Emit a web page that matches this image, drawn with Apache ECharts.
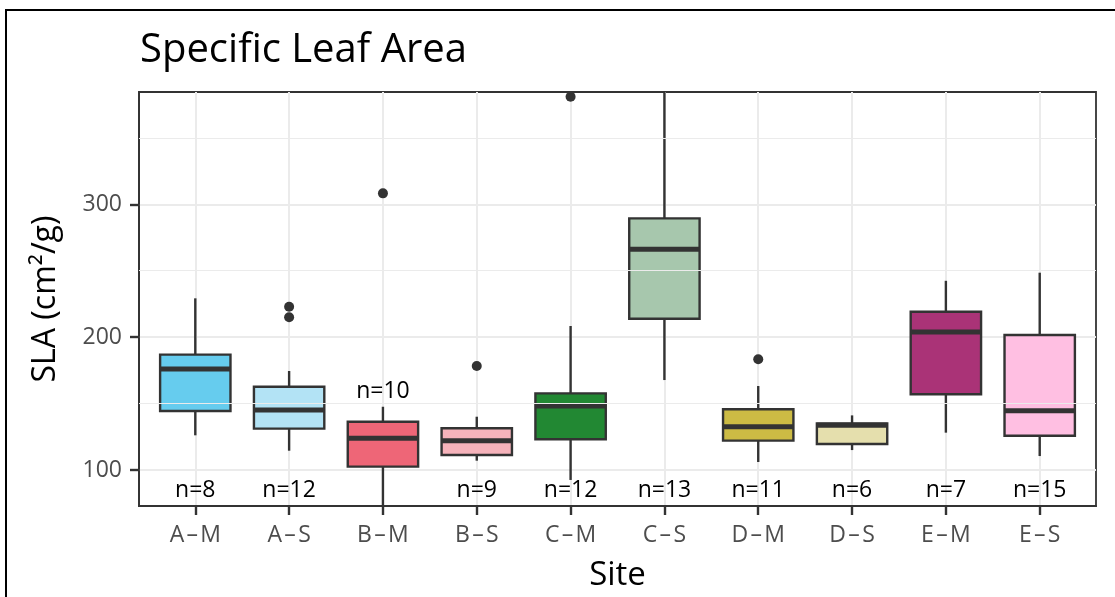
<!DOCTYPE html>
<html>
<head>
<meta charset="utf-8">
<script src="https://cdn.jsdelivr.net/npm/echarts@6/dist/echarts.min.js"></script>
<style>
  html, body { margin: 0; padding: 0; background: #ffffff; }
  #chart { width: 1115px; height: 597px; }
</style>
</head>
<body>
<div id="chart"></div>
<script>
// Sites (category order along the x axis)
const sites = ['A\u200a–\u200aM', 'A\u200a–\u200aS', 'B\u200a–\u200aM', 'B\u200a–\u200aS', 'C\u200a–\u200aM',
               'C\u200a–\u200aS', 'D\u200a–\u200aM', 'D\u200a–\u200aS', 'E\u200a–\u200aM', 'E\u200a–\u200aS'];

// Five-number summaries of SLA per site (cm²/g)
const whiskerLow  = [126.1, 114.5,  62.0, 107.0,  92.5, 167.7, 106.0, 115.0, 128.1, 110.5];
const lowerQuart  = [144.4, 131.1, 102.5, 111.3, 123.1, 213.8, 122.1, 119.6, 157.0, 125.8];
const medians     = [176.0, 145.1, 123.8, 122.1, 148.2, 266.1, 132.6, 133.6, 203.8, 144.6];
const upperQuart  = [186.8, 162.7, 136.3, 131.4, 157.7, 289.4, 145.7, 135.1, 219.1, 201.6];
const whiskerHigh = [229.2, 174.5, 147.6, 140.1, 208.4, 400.0, 163.2, 141.1, 242.4, 248.5];

// Outlying observations: [site index, SLA]
const outliers = [[1, 222.9], [1, 214.9], [2, 308.2], [3, 178.3], [4, 380.9], [6, 183.3]];

// Sample sizes and the height at which each count is printed
const sampleSizes = [8, 12, 10, 9, 12, 13, 11, 6, 7, 15];
const countLabelY = [84.5, 84.5, 159, 84.5, 84.5, 84.5, 84.5, 84.5, 84.5, 84.5];

// Axis ticks
const yTicks = [100, 200, 300];
const yMinorTicks = [150, 250, 350];
const xTicks = sites.map((_, i) => i);

// Box fill per site
const fills = ['#66ccee', '#b3e3f5', '#ee6677', '#f6b3bb', '#228833',
               '#a7c7ad', '#ccbb44', '#e5dfad', '#aa3377', '#ffbfe2'];

const FONT = "'Open Sans', 'Noto Sans', sans-serif";
const INK = '#333333';
const GRID = '#ebebeb';
const BOX_WIDTH = 0.75;

const boxData = sites.map((_, i) =>
  [i, whiskerLow[i], lowerQuart[i], medians[i], upperQuart[i], whiskerHigh[i]]);
const countData = sites.map((_, i) => [i, countLabelY[i], sampleSizes[i]]);

function renderBox(params, api) {
  const cs = params.coordSys;
  const top = cs.y, bottom = cs.y + cs.height;
  const clampY = v => Math.max(top, Math.min(bottom, v));
  const i = api.value(0);
  const x = api.coord([i, api.value(3)])[0];
  const half = api.size([BOX_WIDTH, 0])[0] / 2;
  const yLow = clampY(api.coord([i, api.value(1)])[1]);
  const yQ1 = api.coord([i, api.value(2)])[1];
  const yMed = api.coord([i, api.value(3)])[1];
  const yQ3 = api.coord([i, api.value(4)])[1];
  const yHigh = clampY(api.coord([i, api.value(5)])[1]);
  const line = { stroke: INK, lineWidth: 2.4 };
  return {
    type: 'group',
    children: [
      { type: 'line', shape: { x1: x, y1: yQ3, x2: x, y2: yHigh }, style: line },
      { type: 'line', shape: { x1: x, y1: yQ1, x2: x, y2: yLow }, style: line },
      { type: 'rect', shape: { x: x - half, y: yQ3, width: 2 * half, height: yQ1 - yQ3 },
        style: { fill: fills[params.dataIndex], stroke: INK, lineWidth: 2.4 } },
      { type: 'line', shape: { x1: x - half, y1: yMed, x2: x + half, y2: yMed },
        style: { stroke: INK, lineWidth: 5 } }
    ]
  };
}

function renderCount(params, api) {
  const p = api.coord([api.value(0), api.value(1)]);
  return {
    type: 'text',
    x: p[0], y: p[1],
    style: {
      text: 'n=' + api.value(2),
      fontSize: 23, fontFamily: FONT, fill: '#000000',
      align: 'center', verticalAlign: 'middle'
    }
  };
}

const chart = echarts.init(document.getElementById('chart'), null, { renderer: 'canvas' });

chart.setOption({
  animation: false,
  backgroundColor: '#ffffff',
  title: {
    text: 'Specific Leaf Area',
    left: 135, top: 26,
    textStyle: { fontSize: 40, fontWeight: 'normal', color: '#000000', fontFamily: FONT }
  },
  graphic: [{
    type: 'rect', silent: true, z: 100,
    shape: { x: 6, y: 10, width: 1130, height: 620 },
    style: { fill: 'none', stroke: '#000000', lineWidth: 2 }
  }],
  grid: {
    left: 139, right: 19, top: 92, bottom: 91,
    show: true, borderColor: INK, borderWidth: 1.8, backgroundColor: '#ffffff'
  },
  xAxis: {
    type: 'value', min: -0.6, max: 9.6,
    name: 'Site', nameLocation: 'middle', nameGap: 53,
    nameTextStyle: { fontSize: 33, color: '#000000', fontFamily: FONT },
    axisLine: { show: true, onZero: false, lineStyle: { color: INK, width: 1.8 } },
    axisTick: { show: true, customValues: xTicks, length: 9, lineStyle: { color: INK, width: 2.4 } },
    axisLabel: {
      customValues: xTicks, margin: 18,
      formatter: v => sites[Math.round(v)],
      fontSize: 23, color: '#4d4d4d', fontFamily: FONT
    },
    splitLine: { show: true, lineStyle: { color: GRID, width: 2 } }
  },
  yAxis: {
    type: 'value', min: 72.9, max: 384.5,
    name: 'SLA (cm²/g)', nameLocation: 'middle', nameGap: 77, nameRotate: 90,
    nameTextStyle: { fontSize: 32, color: '#000000', fontFamily: FONT },
    axisLine: { show: true, onZero: false, lineStyle: { color: INK, width: 1.8 } },
    axisTick: { show: true, customValues: yTicks, length: 9, lineStyle: { color: INK, width: 2.4 } },
    axisLabel: {
      customValues: yTicks, margin: 17,
      fontSize: 23, color: '#4d4d4d', fontFamily: FONT
    },
    splitLine: { show: true, lineStyle: { color: GRID, width: 2 } }
  },
  series: [
    {
      // minor horizontal grid lines
      type: 'line', data: [], z: 1, silent: true,
      markLine: {
        silent: true, symbol: ['none', 'none'], label: { show: false },
        lineStyle: { color: GRID, width: 1.2, type: 'solid' },
        emphasis: { disabled: true },
        data: yMinorTicks.map(v => ({ yAxis: v }))
      }
    },
    {
      type: 'custom', z: 3,
      renderItem: renderBox,
      encode: { x: 0, y: [1, 2, 3, 4, 5] },
      data: boxData
    },
    {
      type: 'scatter', z: 4,
      symbol: 'circle', symbolSize: 10,
      itemStyle: { color: INK, opacity: 1 },
      data: outliers
    },
    {
      type: 'custom', z: 5,
      renderItem: renderCount,
      encode: { x: 0, y: 1 },
      data: countData
    }
  ]
});
</script>
</body>
</html>
